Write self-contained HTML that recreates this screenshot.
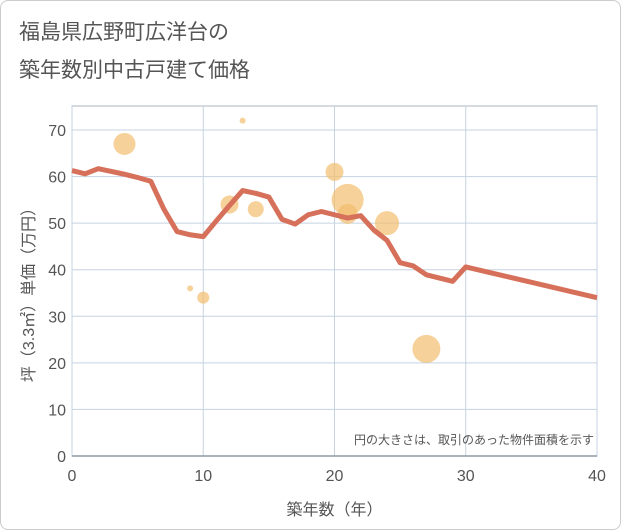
<!DOCTYPE html>
<html><head><meta charset="utf-8"><style>
body{margin:0;background:#fff;font-family:"Liberation Sans","Noto Sans CJK JP",sans-serif;}
#wrap{position:relative;width:619px;height:528px;border:1px solid #ccc;border-radius:8px;overflow:hidden;}
</style></head><body>
<div id="wrap">
<svg id="c" width="619" height="528"></svg>
</div>
<script>
const xTicks=[0,10,20,30,40];
const yTicks=[0,10,20,30,40,50,60,70];
const lineX=[0,1,2,3,4,5,6,7,8,9,10,11,12,13,14,15,16,17,18,19,20,21,22,23,24,25,26,27,28,29,30,40];
const lineY=[61.3,60.6,61.7,61.1,60.5,59.8,59,53,48.2,47.5,47.1,50.5,53.8,57,56.4,55.6,50.8,49.8,51.8,52.5,51.8,51.1,51.6,48.5,46.3,41.5,40.8,38.9,38.2,37.5,40.6,34];
const bubX=[4,9,10,12,13,14,20,21,21,24,27];
const bubY=[67,36,34,54,72,53,61,55,52,50,23];
const bubR=[11,3,6,9,3,8,9,16,10,12,14];
const svg=document.getElementById('c');const NS='http://www.w3.org/2000/svg';
const L=71,R=596,T=105,B=455;
const X=v=>L+(v/40)*(R-L);const Y=v=>B-(v/70)*(B-129);
function el(t,a,txt){const e=document.createElementNS(NS,t);for(const k in a)e.setAttribute(k,a[k]);if(txt!==undefined)e.textContent=txt;svg.appendChild(e);return e;}
let e;
e=el('text',{x:18,y:38,'font-size':21,fill:'#555'},'福島県広野町広洋台の');

e=el('text',{x:18,y:76,'font-size':21,fill:'#555'},'築年数別中古戸建て価格');

e=el('rect',{x:L,y:T,width:R-L,height:B-T,fill:'#fff',stroke:'#a9b4c0'});

yTicks.forEach(v=>{let g=el('line',{x1:L,x2:R,y1:Y(v),y2:Y(v),stroke:'#c5d3e0'});

let t=el('text',{x:L-6,y:Y(v)+6,'font-size':16,fill:'#555','text-anchor':'end'},v);
});
xTicks.forEach(v=>{let g=el('line',{x1:X(v),x2:X(v),y1:T,y2:B,stroke:'#c5d3e0'});

let t=el('text',{x:X(v),y:B+25,'font-size':16,fill:'#555','text-anchor':'middle'},v);
});
e=el('line',{x1:L,x2:R,y1:B,y2:B,stroke:'#8e9aa6','stroke-width':1.5});

bubX.forEach((v,i)=>{let c=el('circle',{cx:X(v),cy:Y(bubY[i]),r:bubR[i],fill:'rgba(242,190,110,0.7)'});
});
e=el('polyline',{points:lineX.map((v,i)=>X(v)+','+Y(lineY[i])).join(' '),fill:'none',stroke:'#d6705a','stroke-width':5,'stroke-linejoin':'round'});

e=el('text',{x:R-3,y:B-12,'font-size':12,fill:'#555','text-anchor':'end'},'円の大きさは、取引のあった物件面積を示す');

e=el('text',{x:(L+R)/2,y:514,'font-size':16,fill:'#555','text-anchor':'middle'},'築年数（年）');

e=el('text',{x:0,y:0,'font-size':16,fill:'#555','text-anchor':'middle',transform:`translate(33,${(T+B)/2+10}) rotate(-90)`},'坪（3.3㎡）単価（万円）');

</script>
</body></html>
